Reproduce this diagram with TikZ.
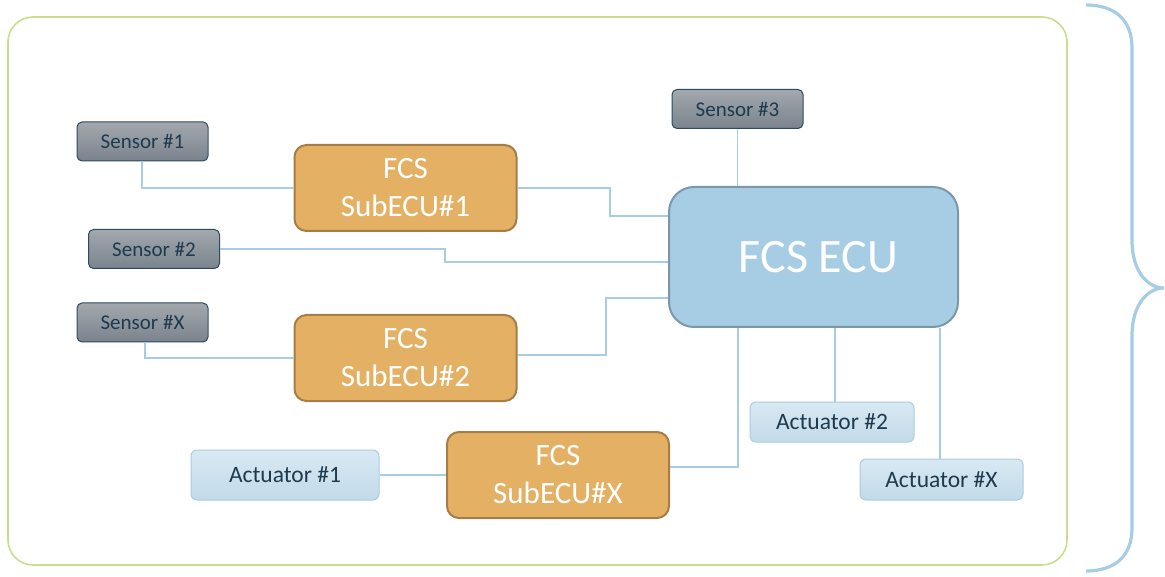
\documentclass[tikz,border=0pt]{standalone}
\usepackage{fontspec}
\setmainfont{Carlito}
\usetikzlibrary{calc}
\definecolor{linkblue}{HTML}{A6CDE3}
\definecolor{ecufill}{HTML}{A6CDE3}
\definecolor{ecuedge}{HTML}{7B98AB}
\definecolor{subfill}{HTML}{E3B064}
\definecolor{subedge}{HTML}{A67D45}
\definecolor{senstop}{HTML}{A3A8AE}
\definecolor{sensbot}{HTML}{7A838C}
\definecolor{sensedge}{HTML}{2E4A5E}
\definecolor{acttop}{HTML}{D8E9F3}
\definecolor{actbot}{HTML}{C2DAE9}
\definecolor{actedge}{HTML}{A9CDE2}
\definecolor{navytext}{HTML}{1E3A4F}
\definecolor{framegreen}{HTML}{CADD8C}
\tikzset{
  sensorbox/.style={draw=sensedge, line width=1pt, rounded corners=5pt,
    top color=senstop, bottom color=sensbot, text=navytext,
    minimum width=131pt, minimum height=39pt, inner sep=0pt, font=\fontsize{21}{23}\selectfont},
  actbox/.style={draw=actedge, line width=1pt, rounded corners=6pt,
    top color=acttop, bottom color=actbot, text=navytext,
    minimum height=40pt, inner sep=0pt, font=\fontsize{23.5}{26}\selectfont},
  subbox/.style={draw=subedge, line width=2pt, fill=subfill, rounded corners=12pt,
    text=white, minimum width=222pt, minimum height=86pt, inner sep=0pt,
    align=center, font=\fontsize{31}{38}\selectfont},
  ecubox/.style={draw=ecuedge, line width=2pt, fill=ecufill, rounded corners=25pt,
    text=white, minimum width=289pt, minimum height=140pt, inner sep=0pt,
    font=\fontsize{48}{52}\selectfont},
  link/.style={draw=linkblue, line width=1.2pt},
}
\begin{document}
\begin{tikzpicture}[x=1pt, y=-1pt]
\useasboundingbox (0,0) rectangle (1165,577);

% outer frame and brace
\draw[framegreen, line width=1.6pt, rounded corners=25pt] (8,17) rectangle (1067,565);
\draw[linkblue, line width=3.2pt]
  (1086,5) .. controls (1115,5) and (1132,20) .. (1132,48)
  -- (1132,240) .. controls (1132,272) and (1148,288) .. (1164,288)
  .. controls (1148,288) and (1132,304) .. (1132,336)
  -- (1132,528) .. controls (1132,556) and (1115,571) .. (1086,571);

% nodes
\node[ecubox] (ecu) at (813.5,257) {\hspace*{10pt}FCS ECU};
\node[subbox] (sub1) at (405.5,188) {FCS\\SubECU\#1};
\node[subbox] (sub2) at (405.5,358) {FCS\\SubECU\#2};
\node[subbox] (subx) at (558,475) {FCS\\SubECU\#X};
\node[sensorbox] (s1) at (142.5,141.5) {Sensor \#1};
\node[sensorbox] (s2) at (154,249) {Sensor \#2};
\node[sensorbox] (sx) at (142.5,322.5) {Sensor \#X};
\node[sensorbox] (s3) at (737.5,109) {Sensor \#3};
\node[actbox, minimum width=188pt, minimum height=50pt] (a1) at (285,475) {Actuator \#1};
\node[actbox, minimum width=164pt] (a2) at (832,422) {Actuator \#2};
\node[actbox, minimum width=163pt, minimum height=41pt] (ax) at (941.5,479.5) {Actuator \#X};

% connectors
\draw[link] (s1.south -| 142,0) |- (sub1.west);
\draw[link] (sub1.east) -- (610,188) |- (ecu.west |- 0,216);
\draw[link] (s2.east) -- (445,249) |- (ecu.west |- 0,262);
\draw[link] (sx.south -| 145,0) |- (sub2.west);
\draw[link] (sub2.east |- 0,355) -- (606,355) |- (ecu.west |- 0,298);
\draw[link] (s3.south) -- (ecu.north -| s3.south);
\draw[link] (ecu.south -| 738,0) |- (subx.east |- 0,467);
\draw[link] (a1.east) -- (subx.west |- a1.east);
\draw[link] (ecu.south -| 835,0) -- (a2.north -| 835,0);
\draw[link] (ecu.south -| 940,0) -- (ax.north -| 940,0);
\end{tikzpicture}
\end{document}
